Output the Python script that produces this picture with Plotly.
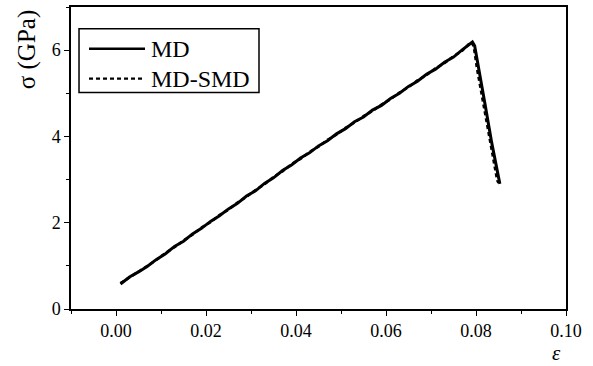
import plotly.graph_objects as go

# strain / stress
md_x = [0.001, 0.003, 0.005, 0.007, 0.009, 0.011, 0.013, 0.015, 0.017, 0.019,
        0.021, 0.023, 0.025, 0.027, 0.029, 0.031, 0.033, 0.035, 0.037, 0.039,
        0.041, 0.043, 0.045, 0.047, 0.049, 0.051, 0.053, 0.055, 0.057, 0.059,
        0.061, 0.063, 0.065, 0.067, 0.069, 0.071, 0.073, 0.075, 0.077, 0.0785,
        0.0792, 0.0797, 0.0805, 0.082, 0.0835, 0.085, 0.0853]
md_y = [0.58, 0.74, 0.86, 0.99, 1.15, 1.28, 1.45, 1.57, 1.74, 1.87,
        2.03, 2.16, 2.32, 2.45, 2.62, 2.74, 2.91, 3.04, 3.21, 3.34,
        3.50, 3.62, 3.78, 3.90, 4.06, 4.18, 4.34, 4.45, 4.61, 4.72,
        4.88, 5.00, 5.16, 5.28, 5.44, 5.56, 5.72, 5.84, 6.01, 6.14,
        6.19, 6.10, 5.60, 4.75, 3.85, 3.00, 2.90]

smd_x = [0.001, 0.003, 0.005, 0.007, 0.009, 0.011, 0.013, 0.015, 0.017, 0.019,
         0.021, 0.023, 0.025, 0.027, 0.029, 0.031, 0.033, 0.035, 0.037, 0.039,
         0.041, 0.043, 0.045, 0.047, 0.049, 0.051, 0.053, 0.055, 0.057, 0.059,
         0.061, 0.063, 0.065, 0.067, 0.069, 0.071, 0.073, 0.075, 0.077, 0.0783,
         0.0790, 0.0795, 0.0802, 0.0817, 0.0832, 0.0847, 0.0850]
smd_y = [0.60, 0.73, 0.87, 1.00, 1.14, 1.30, 1.43, 1.59, 1.72, 1.89,
         2.01, 2.18, 2.30, 2.47, 2.60, 2.76, 2.89, 3.06, 3.19, 3.36,
         3.48, 3.64, 3.76, 3.92, 4.04, 4.20, 4.32, 4.47, 4.59, 4.74,
         4.86, 5.02, 5.14, 5.30, 5.42, 5.58, 5.70, 5.86, 5.99, 6.13,
         6.18, 6.08, 5.58, 4.72, 3.82, 2.98, 2.92]

series_names = ["MD", "MD-SMD"]
x_ticks = [0.00, 0.02, 0.04, 0.06, 0.08, 0.10]
x_tick_labels = ["0.00", "0.02", "0.04", "0.06", "0.08", "0.10"]
y_ticks = [0, 2, 4, 6]
y_tick_labels = ["0", "2", "4", "6"]

FONT = "Liberation Serif"
DASH = "4px,3px"

fig = go.Figure()
fig.add_trace(go.Scatter(x=md_x, y=md_y, mode="lines", name=series_names[0],
                         line=dict(color="black", width=3)))
fig.add_trace(go.Scatter(x=smd_x, y=smd_y, mode="lines", name=series_names[1],
                         line=dict(color="black", width=2.5, dash=DASH)))

axis_common = dict(showgrid=False, zeroline=False, showline=True,
                   linecolor="black", linewidth=1.5, mirror=True,
                   ticks="outside", ticklen=5, tickwidth=1.2, tickcolor="black",
                   tickfont=dict(family=FONT, size=18, color="black"))

fig.update_xaxes(range=[-0.01, 0.10], tickvals=x_ticks, ticktext=x_tick_labels,
                 minor=dict(dtick=0.01, tick0=0.01, ticks="outside", ticklen=3,
                            tickwidth=1.2, tickcolor="black"),
                 **axis_common)
fig.update_yaxes(range=[0, 7], tickvals=y_ticks, ticktext=y_tick_labels,
                 minor=dict(dtick=1, tick0=1, ticks="outside", ticklen=3,
                            tickwidth=1.2, tickcolor="black"),
                 **axis_common)

# hand-built legend box (tighter than plotly's own legend)
fig.add_shape(type="rect", xref="paper", yref="paper",
              x0=0.0162, x1=0.3798, y0=0.717, y1=0.9276,
              line=dict(color="black", width=1.5), fillcolor="white", layer="above")
legend_rows = [(0.8618, "solid", 2.5), (0.763, DASH, 2.2)]
for name, (yy, dash, w) in zip(series_names, legend_rows):
    fig.add_shape(type="line", xref="paper", yref="paper",
                  x0=0.0364, x1=0.1495, y0=yy, y1=yy,
                  line=dict(color="black", width=w, dash=dash), layer="above")
    fig.add_annotation(text=name, xref="paper", yref="paper",
                       x=0.1576, y=yy, xanchor="left", yanchor="middle",
                       showarrow=False,
                       font=dict(family=FONT, size=24, color="black"))

fig.add_annotation(text="σ (GPa)", xref="paper", yref="paper",
                   x=-0.089, y=0.86, textangle=-90, showarrow=False,
                   font=dict(family=FONT, size=25, color="black"),
                   xanchor="center", yanchor="middle")
fig.add_annotation(text="<i>ε</i>", xref="paper", yref="paper",
                   x=0.98, y=-0.145, showarrow=False,
                   font=dict(family=FONT, size=21, color="black"),
                   xanchor="center", yanchor="middle")

fig.update_layout(
    width=593, height=366,
    margin=dict(l=71, r=27, t=5, b=57),
    plot_bgcolor="white", paper_bgcolor="white",
    font=dict(family=FONT, color="black"),
    showlegend=False,
)

fig.write_html("out.html")
